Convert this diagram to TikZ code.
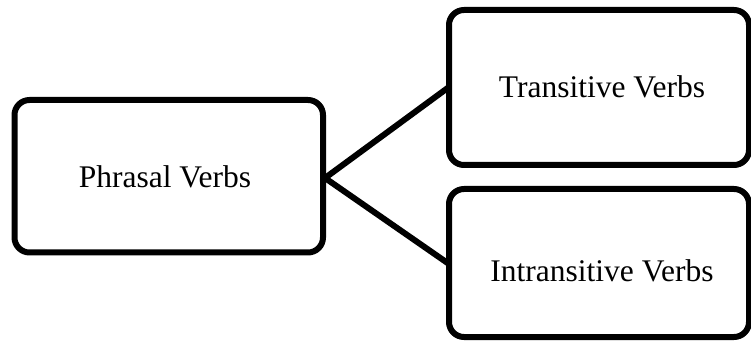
\documentclass[tikz,border=0pt]{standalone}
\usepackage{fontspec}
\setmainfont{Liberation Serif}
\begin{document}
\begin{tikzpicture}[x=1pt,y=-1pt,
  box/.style={draw=black, line width=6pt, rounded corners=15pt, fill=white},
  lbl/.style={font=\fontsize{31.5}{36}\selectfont},
  conn/.style={draw=black, line width=6pt}]
\useasboundingbox (0,0) rectangle (751,344);
\draw[box] (14.5,100) rectangle (323,252.5);
\draw[box] (449,10) rectangle (749,165);
\draw[box] (449,189) rectangle (749,337);
\node[lbl] (p) at (165,177) {Phrasal Verbs};
\node[lbl] (t) at (602,87) {Transitive Verbs};
\node[lbl] (i) at (602,271) {Intransitive Verbs};
\coordinate (a) at (325,178);
\coordinate (b) at (449,87);
\coordinate (c) at (449,264);
\draw[conn] (a) -- (b);
\draw[conn] (a) -- (c);
\end{tikzpicture}
\end{document}
